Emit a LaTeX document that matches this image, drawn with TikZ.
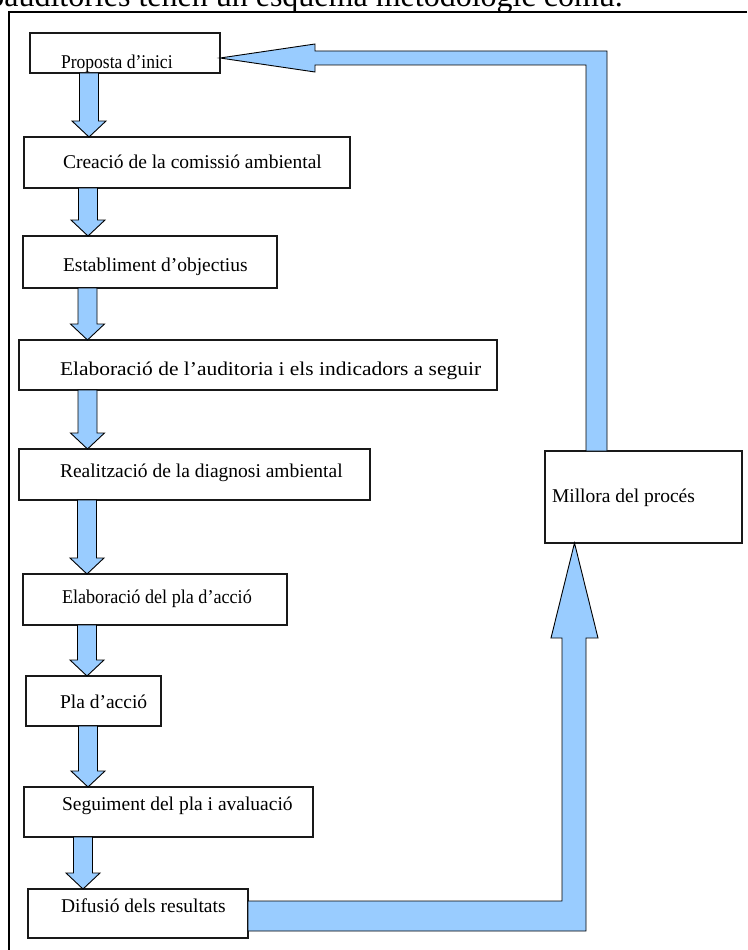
\documentclass[tikz,border=0pt]{standalone}
\usepackage{fontspec}
\usepackage{graphicx}
\setmainfont{Liberation Serif}
\usetikzlibrary{calc}
\definecolor{arrowblue}{HTML}{99CCFF}
\newcommand\boxfont{\fontsize{19.5}{23}\selectfont}
\newcommand\headfont{\fontsize{32}{36}\selectfont}
\tikzset{
  box/.style={draw=black!90, line width=1.1pt, fill=white, inner sep=0pt, outer sep=0pt, anchor=north west},
  flow/.style={draw=black, line width=0.9pt, fill=arrowblue, line join=miter},
  lbl/.style={anchor=base west, inner sep=0pt, outer sep=0pt, font=\boxfont},
  frameline/.style={draw=black, line width=2.6pt},
}
% down arrow from node #1 to node #2 at centre x = #3 (pixels)
\newcommand\varrow[3]{%
  \path[flow] let \p1=(#1.south), \p2=(#2.north) in
    ({#3pt-9.5pt},\y1) -- ({#3pt-9.5pt},{\y2+16pt}) -- ({#3pt-17pt},{\y2+16pt}) --
    ({#3pt},\y2) -- ({#3pt+17pt},{\y2+16pt}) -- ({#3pt+9.5pt},{\y2+16pt}) --
    ({#3pt+9.5pt},\y1) -- cycle;}
\begin{document}
\begin{tikzpicture}[x=1pt,y=-1pt]
\useasboundingbox (0,0) rectangle (747,950);
\clip (0,0) rectangle (747,950);
\fill[white] (0,0) rectangle (747,950);

% cropped heading text
\node[anchor=base east, inner sep=0pt, font=\headfont] (head) at (623,7) {ecoauditories tenen un esquema metodològic comú.};

% frame
\draw[frameline] (747,12) -- (9,12) -- (9,950);

% boxes
\node[box, minimum width=190pt, minimum height=40pt] (b1) at (30,33) {};
\node[box, minimum width=326pt, minimum height=51pt] (b2) at (24,137) {};
\node[box, minimum width=254pt, minimum height=52pt] (b3) at (23,236) {};
\node[box, minimum width=478pt, minimum height=50pt] (b4) at (19,340) {};
\node[box, minimum width=351pt, minimum height=51pt] (b5) at (19,449) {};
\node[box, minimum width=264pt, minimum height=51pt] (b6) at (23,574) {};
\node[box, minimum width=135pt, minimum height=50pt] (b7) at (26,676) {};
\node[box, minimum width=289pt, minimum height=50pt] (b8) at (24,787) {};
\node[box, minimum width=220pt, minimum height=49pt] (b9) at (28,889) {};
\node[box, minimum width=197pt, minimum height=92pt] (bm) at (545,451) {};

% labels
\node[lbl] (t1) at (61,68) {\scalebox{0.9}[1]{Proposta d’inici}};
\node[lbl] (t2) at (63,168) {Creació de la comissió ambiental};
\node[lbl] (t3) at (63,271) {Establiment d’objectius};
\node[lbl] (t4) at (60,375) {\scalebox{1.1}[1]{Elaboració de l’auditoria i els indicadors a seguir}};
\node[lbl] (t5) at (60,477) {Realització de la diagnosi ambiental};
\node[lbl] (t6) at (62,603) {\scalebox{0.93}[1]{Elaboració del pla d’acció}};
\node[lbl] (t7) at (60,708) {Pla d’acció};
\node[lbl] (t8) at (62,810) {Seguiment del pla i avaluació};
\node[lbl] (t9) at (61,912) {Difusió dels resultats};
\node[lbl] (tm) at (552,502) {Millora del procés};

% down arrows
\varrow{b1}{b2}{89}
\varrow{b2}{b3}{88}
\varrow{b3}{b4}{87.5}
\varrow{b4}{b5}{87.5}
\varrow{b5}{b6}{87}
\varrow{b6}{b7}{87}
\varrow{b7}{b8}{88}
\varrow{b8}{b9}{83}

% bottom return arrow: Difusió -> Millora
\path[flow] let \p1=(b9.east), \p2=(bm.south) in
  (\x1,{-901pt}) -- ({562pt},{-901pt}) -- ({562pt},{-638pt}) -- ({551pt},{-638pt}) --
  ({574.5pt},\y2) -- ({598pt},{-638pt}) -- ({586pt},{-638pt}) -- ({586pt},{-931pt}) --
  (\x1,{-931pt}) -- cycle;

% top return arrow: Millora -> Proposta
\path[flow] let \p1=(bm.north), \p2=(b1.east) in
  ({586pt},\y1) -- ({586pt},{-65pt}) -- ({315pt},{-65pt}) -- ({315pt},{-72pt}) --
  (\x2,{-58pt}) -- ({315pt},{-44pt}) -- ({315pt},{-51pt}) -- ({607pt},{-51pt}) --
  ({607pt},\y1) -- cycle;
\end{tikzpicture}
\end{document}
